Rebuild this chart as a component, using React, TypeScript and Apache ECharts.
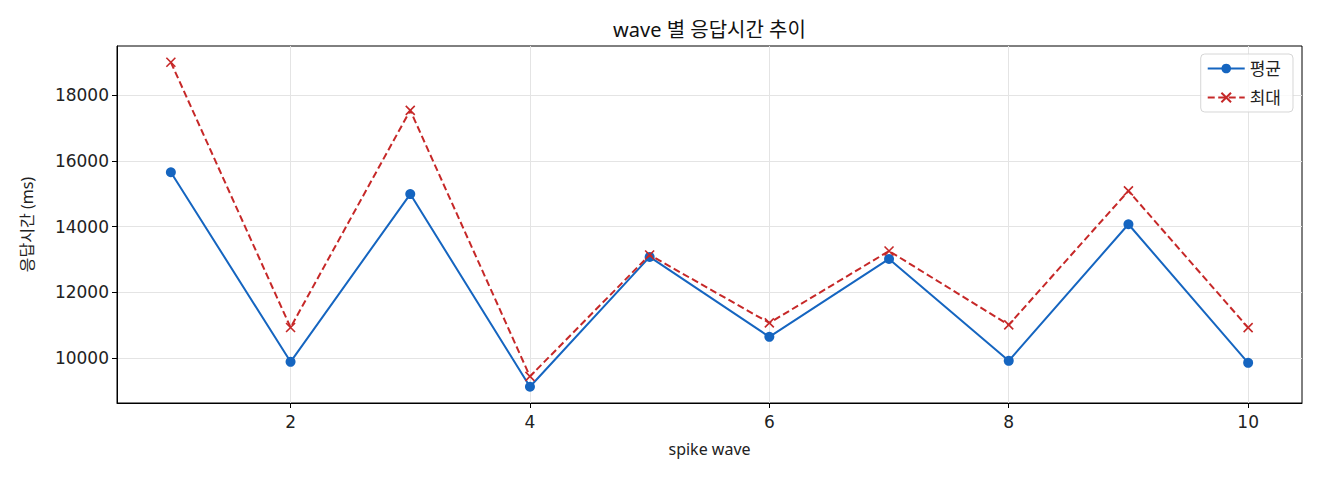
import React, { useEffect, useRef } from "react";
import * as echarts from "echarts";

const waves = [1, 2, 3, 4, 5, 6, 7, 8, 9, 10];
const avgMs = [15660, 9885, 14995, 9125, 13080, 10645, 13020, 9915, 14075, 9855];
const maxMs = [19010, 10930, 17545, 9440, 13140, 11070, 13260, 11010, 15090, 10925];
const xTicks = [2, 4, 6, 8, 10];
const yTicks = [10000, 12000, 14000, 16000, 18000];
const seriesNames = ["평균", "최대"];
const titleText = "wave 별 응답시간 추이";
const xName = "spike wave";
const yName = "응답시간 (ms)";

const FONT = "'Noto Sans', 'Noto Sans CJK KR', sans-serif";
const NUM_FONT = "'DejaVu Sans', 'Noto Sans CJK KR', sans-serif";
const BLUE = "#1565C0";
const RED = "#C62828";

export default function App() {
  const ref = useRef<HTMLDivElement>(null);
  useEffect(() => {
    document.body.style.margin = "0";
    if (!ref.current) return;
    const chart = echarts.init(ref.current, null, { renderer: "svg" });
    const allVals = [...avgMs, ...maxMs];
    const lo = Math.min(...allVals);
    const hi = Math.max(...allVals);
    const yPad = (hi - lo) * 0.05;
    const xLo = Math.min(...waves);
    const xHi = Math.max(...waves);
    const xPad = (xHi - xLo) * 0.05;
    chart.setOption({
      animation: false,
      backgroundColor: "#ffffff",
      title: {
        text: titleText,
        left: 709.5,
        textAlign: "center",
        top: 19,
        padding: 0,
        textStyle: { fontFamily: FONT, fontSize: 20, fontWeight: "normal", color: "#111" },
      },
      legend: {
        right: 27,
        top: 54,
        orient: "vertical",
        itemWidth: 37,
        itemHeight: 12,
        itemGap: 12,
        padding: [6, 12, 6, 6],
        borderColor: "#d6d6d6",
        borderWidth: 1,
        borderRadius: 4,
        backgroundColor: "rgba(255,255,255,0.8)",
        textStyle: { fontFamily: FONT, fontSize: 17, color: "#222" },
        data: seriesNames,
      },
      grid: {
        left: 117,
        right: 18,
        top: 46,
        bottom: 77,
        show: true,
        borderColor: "#000",
        borderWidth: 1,
        containLabel: false,
      },
      xAxis: {
        type: "value",
        min: xLo - xPad,
        max: xHi + xPad,
        name: xName,
        nameLocation: "middle",
        nameGap: 38,
        nameTextStyle: { fontFamily: FONT, fontSize: 16, color: "#222" },
        axisLine: { show: true, onZero: false, lineStyle: { color: "#000", width: 1 } },
        axisTick: { show: true, length: 5, customValues: xTicks, lineStyle: { color: "#000" } },
        axisLabel: {
          customValues: xTicks,
          margin: 10,
          fontFamily: NUM_FONT,
          fontSize: 17,
          color: "#222",
          formatter: (v: number) => String(v),
        },
        splitLine: { show: true, lineStyle: { color: "#e4e4e4", width: 1 } },
      },
      yAxis: {
        type: "value",
        min: lo - yPad,
        max: hi + yPad,
        name: yName,
        nameLocation: "middle",
        nameGap: 82,
        nameTextStyle: { fontFamily: FONT, fontSize: 16, color: "#222" },
        axisLine: { show: true, onZero: false, lineStyle: { color: "#000", width: 1 } },
        axisTick: { show: true, length: 5, customValues: yTicks, lineStyle: { color: "#000" } },
        axisLabel: {
          customValues: yTicks,
          margin: 8,
          fontFamily: NUM_FONT,
          fontSize: 17,
          color: "#222",
          formatter: (v: number) => String(v),
        },
        splitLine: { show: true, lineStyle: { color: "#e4e4e4", width: 1 } },
      },
      series: [
        {
          name: seriesNames[0],
          type: "line",
          data: waves.map((w, i) => [w, avgMs[i]]),
          symbol: "circle",
          symbolSize: 10,
          showAllSymbol: true,
          lineStyle: { color: BLUE, width: 2 },
          itemStyle: { color: BLUE, borderWidth: 0 },
          z: 3,
        },
        {
          name: seriesNames[1],
          type: "line",
          data: waves.map((w, i) => [w, maxMs[i]]),
          symbol: "path://M0,0L10,10M10,0L0,10",
          symbolSize: 9,
          showAllSymbol: true,
          lineStyle: { color: RED, width: 2, type: [7, 3.5] },
          itemStyle: { color: "rgba(0,0,0,0)", borderColor: RED, borderWidth: 1.6 },
          z: 4,
        },
      ],
    });
    return () => chart.dispose();
  }, []);
  return <div ref={ref} style={{ width: 1320, height: 480 }} />;
}
